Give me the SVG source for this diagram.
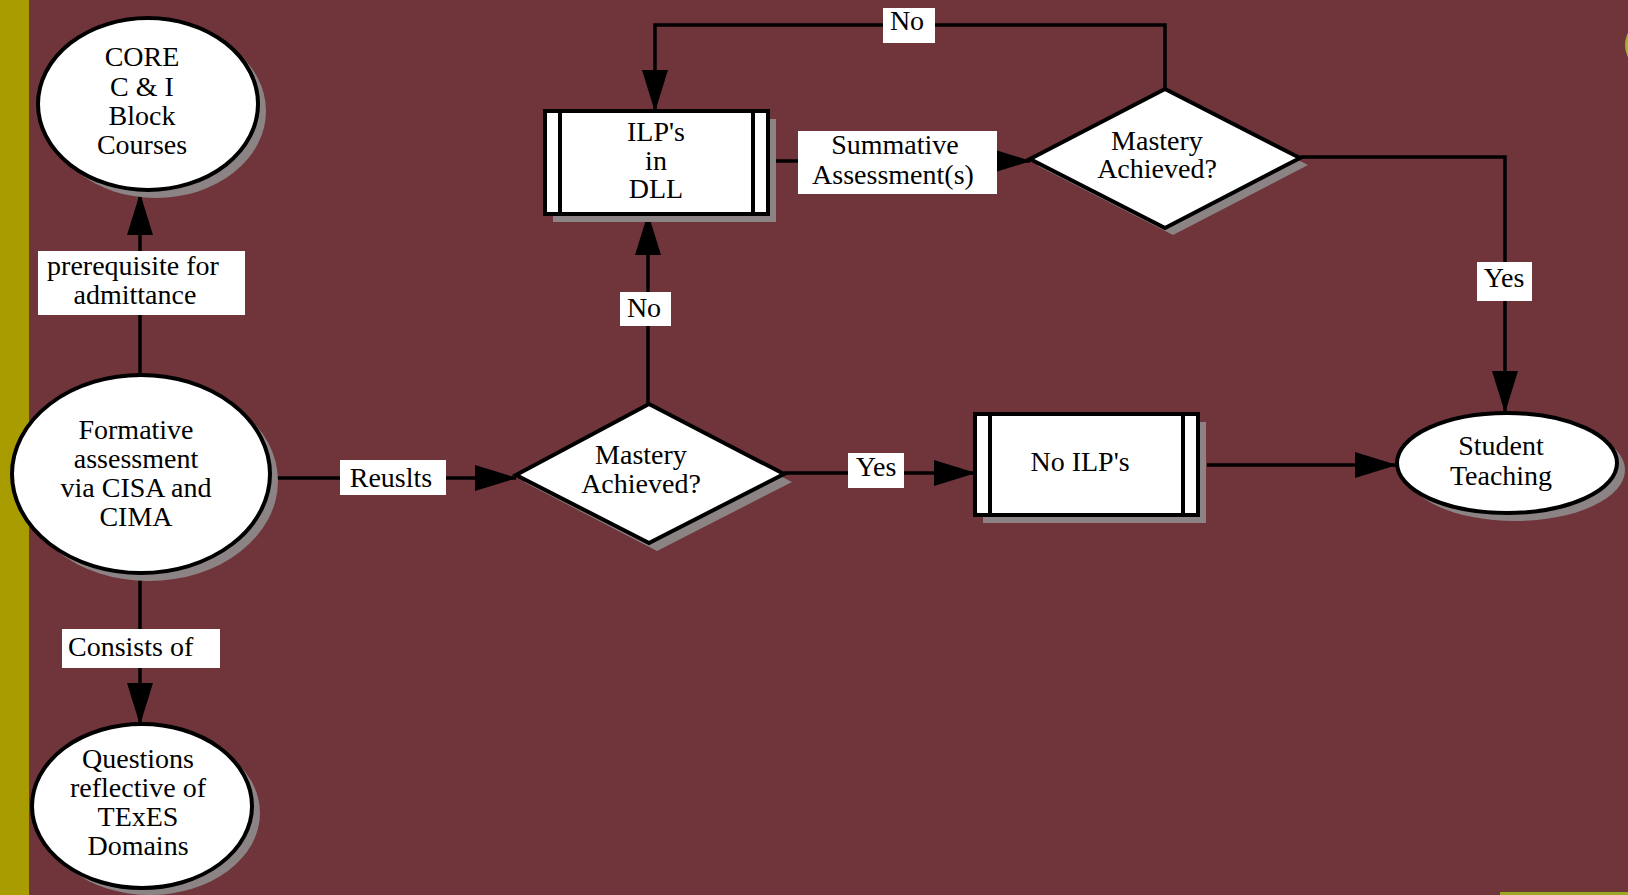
<svg xmlns="http://www.w3.org/2000/svg" width="1628" height="895" viewBox="0 0 1628 895">
<defs>
<style>
.node{fill:#fff;stroke:#000;stroke-width:4}
.shadow{fill:#8c8484}
.conn{fill:none;stroke:#000;stroke-width:3.5}
.lbl{fill:#fff}
text{font-family:"Liberation Serif","Times New Roman",serif;font-size:28px;fill:#000}
.c{text-anchor:middle}
</style>
<marker id="ah" markerUnits="userSpaceOnUse" markerWidth="42" markerHeight="26" viewBox="0 0 42 26" refX="41" refY="13" orient="auto">
<path d="M0,0 L42,13 L0,26 Z" fill="#000"/>
</marker>
</defs>
<rect x="0" y="0" width="1628" height="895" fill="#6f353b"/>
<rect x="0" y="0" width="29" height="895" fill="#a89c00"/>
<rect x="1500" y="892" width="128" height="3" fill="#9ca824"/>
<circle cx="1652" cy="45" r="27" fill="#a8b030"/>

<g id="connectors">
<line class="conn" x1="140" y1="374" x2="140" y2="194" marker-end="url(#ah)"/>
<line class="conn" x1="140" y1="573" x2="140" y2="724" marker-end="url(#ah)"/>
<line class="conn" x1="272" y1="478" x2="516" y2="478" marker-end="url(#ah)"/>
<line class="conn" x1="648" y1="403" x2="648" y2="214" marker-end="url(#ah)"/>
<polyline class="conn" points="1165,89 1165,25 655,25 655,111" marker-end="url(#ah)"/>
<line class="conn" x1="768" y1="161" x2="1030" y2="161" marker-end="url(#ah)"/>
<polyline class="conn" points="1300,157 1505,157 1505,412" marker-end="url(#ah)"/>
<line class="conn" x1="784" y1="473" x2="975" y2="473" marker-end="url(#ah)"/>
<line class="conn" x1="1207" y1="465" x2="1396" y2="465" marker-end="url(#ah)"/>

<rect class="lbl" x="38" y="251" width="207" height="64"/>
<text class="c" x="133" y="275">prerequisite for</text>
<text class="c" x="135" y="304">admittance</text>

<rect class="lbl" x="62" y="629" width="158" height="39"/>
<text x="68" y="656">Consists of</text>

<rect class="lbl" x="340" y="460" width="106" height="35"/>
<text class="c" x="391" y="487">Reuslts</text>

<rect class="lbl" x="620" y="292" width="51" height="34"/>
<text class="c" x="644" y="317">No</text>

<rect class="lbl" x="883" y="8" width="52" height="35"/>
<text class="c" x="907" y="30">No</text>

<rect class="lbl" x="798" y="131" width="199" height="63"/>
<text class="c" x="895" y="154">Summative</text>
<text class="c" x="893" y="184">Assessment(s)</text>

<rect class="lbl" x="848" y="453" width="56" height="35"/>
<text class="c" x="876" y="476">Yes</text>

<rect class="lbl" x="1477" y="262" width="55" height="39"/>
<text class="c" x="1504" y="287">Yes</text>
</g>

<g id="core">
<ellipse class="shadow" cx="156" cy="111" rx="110" ry="87"/>
<ellipse class="node" cx="148" cy="104" rx="110" ry="86"/>
<text class="c" x="142" y="66">CORE</text>
<text class="c" x="142" y="96">C &amp; I</text>
<text class="c" x="142" y="125">Block</text>
<text class="c" x="142" y="154">Courses</text>
</g>

<g id="formative">
<ellipse class="shadow" cx="149" cy="481" rx="129" ry="100"/>
<ellipse class="node" cx="141" cy="474" rx="129" ry="99"/>
<text class="c" x="136" y="439">Formative</text>
<text class="c" x="136" y="468">assessment</text>
<text class="c" x="136" y="497">via CISA and</text>
<text class="c" x="136" y="526">CIMA</text>
</g>

<g id="questions">
<ellipse class="shadow" cx="150" cy="813" rx="110" ry="82"/>
<ellipse class="node" cx="142" cy="806" rx="110" ry="82"/>
<text class="c" x="138" y="768">Questions</text>
<text class="c" x="138" y="797">reflective of</text>
<text class="c" x="138" y="826">TExES</text>
<text class="c" x="138" y="855">Domains</text>
</g>

<g id="decision1">
<polygon class="shadow" points="524,482 657,412 792,482 657,551"/>
<polygon class="node" points="516,475 649,404 784,474 649,543"/>
<text class="c" x="641" y="464">Mastery</text>
<text class="c" x="641" y="493">Achieved?</text>
</g>

<g id="ilp">
<rect class="shadow" x="553" y="119" width="223" height="103"/>
<rect class="node" x="545" y="111" width="223" height="103"/>
<line x1="560" y1="111" x2="560" y2="214" stroke="#000" stroke-width="4"/>
<line x1="753" y1="111" x2="753" y2="214" stroke="#000" stroke-width="4"/>
<text class="c" x="656" y="141">ILP's</text>
<text class="c" x="656" y="170">in</text>
<text class="c" x="656" y="198">DLL</text>
</g>

<g id="decision2">
<polygon class="shadow" points="1038,166 1173,97 1308,165 1173,235"/>
<polygon class="node" points="1030,159 1165,89 1300,158 1165,228"/>
<text class="c" x="1157" y="150">Mastery</text>
<text class="c" x="1157" y="178">Achieved?</text>
</g>

<g id="noilp">
<rect class="shadow" x="983" y="422" width="223" height="101"/>
<rect class="node" x="975" y="414" width="223" height="101"/>
<line x1="990" y1="414" x2="990" y2="515" stroke="#000" stroke-width="4"/>
<line x1="1183" y1="414" x2="1183" y2="515" stroke="#000" stroke-width="4"/>
<text class="c" x="1080" y="471">No ILP's</text>
</g>

<g id="student">
<ellipse class="shadow" cx="1515" cy="470" rx="110" ry="51"/>
<ellipse class="node" cx="1507" cy="463" rx="110" ry="50"/>
<text class="c" x="1501" y="455">Student</text>
<text class="c" x="1501" y="485">Teaching</text>
</g>
</svg>
